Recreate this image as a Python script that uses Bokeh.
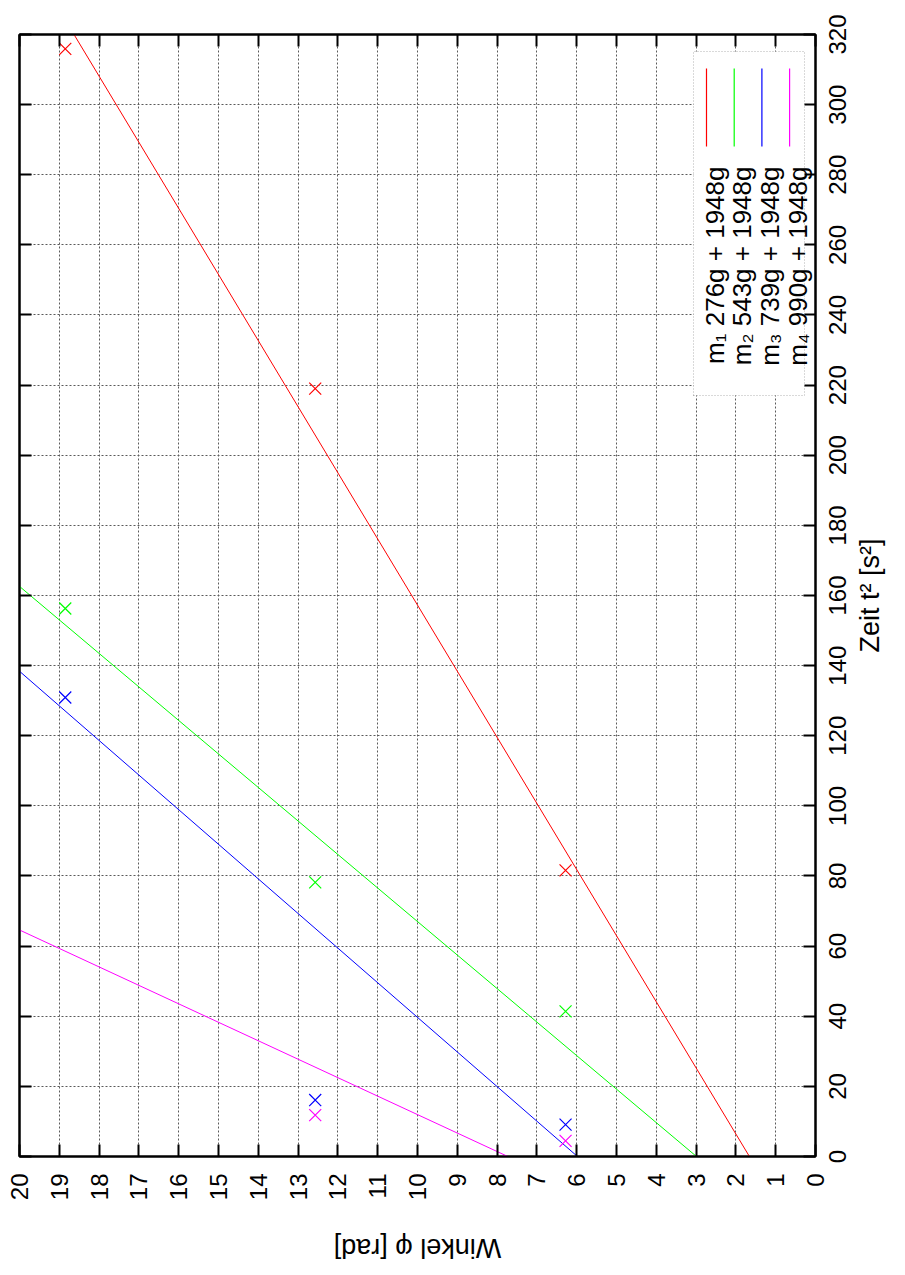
import math
from bokeh.plotting import figure
from bokeh.document import Document
from bokeh.models import (Range1d, LinearAxis, SingleIntervalTicker, Label,
                          BoxAnnotation, Arrow, CustomJSTickFormatter, CustomJS)
from bokeh.embed import file_html
from bokeh.resources import INLINE

# ---------------- data ----------------
# measured angles (2*pi, 4*pi, 6*pi) and squared times t^2
phi_marks = [6.28, 12.57, 18.85]
t2_m1 = [81.6, 219.0, 315.9]
t2_m2 = [41.4, 78.2, 156.3]
t2_m3 = [9.1, 16.1, 130.9]
phi_m4 = [6.28, 12.57]
t2_m4 = [4.45, 11.8]

# fitted straight lines (end points)
fit_m1_t2 = [0.0, 320.0]
fit_m1_phi = [1.66, 18.63]
fit_m2_t2 = [0.0, 162.6]
fit_m2_phi = [2.99, 20.0]
fit_m3_t2 = [0.0, 138.4]
fit_m3_phi = [5.98, 20.0]
fit_m4_t2 = [0.0, 64.6]
fit_m4_phi = [7.73, 20.0]

legend_labels = ["m\u2081 276g + 1948g", "m\u2082 543g + 1948g",
                 "m\u2083 739g + 1948g", "m\u2084 990g + 1948g"]
colors = ["#ff0000", "#00ff00", "#0000ff", "#ff00ff"]

x_label = "Zeit t\u00b2 [s\u00b2]"
y_label = "Winkel \u03c6 [rad]"

FONT = "Liberation Sans"
TICK_FS = "24px"
TITLE_FS = "27px"
LEG_FS = "26px"

W0, H0 = 1267, 897   # unrotated canvas size; the page shows it turned 90 deg

# ---------------- figure (gnuplot layout, then turned as a whole) ----------------
p = figure(frame_width=1122, frame_height=796,
           x_range=Range1d(0, 320), y_range=Range1d(0, 20),
           x_axis_location="below", y_axis_location="left",
           output_backend="svg", toolbar_location=None,
           min_border_left=110, min_border_right=35,
           min_border_top=19, min_border_bottom=82,
           background_fill_color="white", border_fill_color="white")
p.css_classes = ["rot-root"]

p.outline_line_color = "black"
p.outline_line_width = 2

xt = SingleIntervalTicker(interval=20, num_minor_ticks=0)
yt = SingleIntervalTicker(interval=1, num_minor_ticks=0)

p.xaxis[0].ticker = xt
p.yaxis[0].ticker = yt
p.xgrid.ticker = xt
p.ygrid.ticker = yt

for g in (p.xgrid, p.ygrid):
    g.grid_line_color = "#5a5a5a"
    g.grid_line_dash = "2 2"
    g.grid_line_width = 1


def style_axis(ax):
    ax.major_tick_in = 12
    ax.major_tick_out = 0
    ax.minor_tick_in = 0
    ax.minor_tick_out = 0
    ax.major_tick_line_color = "black"
    ax.major_tick_line_width = 2
    ax.axis_line_color = "black"
    ax.axis_line_width = 2
    ax.major_label_text_font = FONT
    ax.major_label_text_font_size = TICK_FS
    ax.major_label_text_color = "black"
    ax.axis_label_text_font = FONT
    ax.axis_label_text_font_size = TITLE_FS
    ax.axis_label_text_font_style = "normal"
    ax.axis_label_text_color = "black"


bx = p.xaxis[0]
ly = p.yaxis[0]
style_axis(bx)
style_axis(ly)
bx.major_label_standoff = 13
bx.axis_label = x_label
bx.axis_label_standoff = 6
ly.major_label_standoff = 17
ly.axis_label = y_label
ly.axis_label_standoff = 30

top = LinearAxis(ticker=xt)
right = LinearAxis(ticker=yt)
for ax in (top, right):
    style_axis(ax)
    ax.axis_label = None
    ax.major_label_text_font_size = "0px"
    ax.major_label_standoff = 0
    ax.formatter = CustomJSTickFormatter(code="return ''")
p.add_layout(top, "above")
p.add_layout(right, "right")

# ---------------- data glyphs ----------------
fits = [(fit_m1_t2, fit_m1_phi), (fit_m2_t2, fit_m2_phi),
        (fit_m3_t2, fit_m3_phi), (fit_m4_t2, fit_m4_phi)]
pts = [(t2_m1, phi_marks), (t2_m2, phi_marks), (t2_m3, phi_marks), (t2_m4, phi_m4)]

for (fx, fy), c in zip(fits, colors):
    p.line(fx, fy, line_color=c, line_width=1)
for (px_, py_), c in zip(pts, colors):
    p.scatter(px_, py_, marker="cross", angle=math.pi / 4, size=17,
              line_color=c, line_alpha=1.0, line_width=1.2, fill_color=None)

# ---------------- key (gnuplot style: text, then sample) ----------------
p.add_layout(BoxAnnotation(left=761, right=1105, bottom=11, top=122,
                           left_units="screen", right_units="screen",
                           bottom_units="screen", top_units="screen",
                           fill_color="white", fill_alpha=1.0,
                           line_color="black", line_dash="1 2", line_width=1,
                           level="annotation"))
for i, (lab, c) in enumerate(zip(legend_labels, colors)):
    ys = 109 - 27.7 * i
    p.add_layout(Arrow(end=None, x_start=1010, y_start=ys, x_end=1088, y_end=ys,
                       start_units="screen", end_units="screen",
                       line_color=c, line_width=1.2))
    p.add_layout(Label(x=990, y=ys - 8, x_units="screen", y_units="screen",
                       text=lab, text_align="right",
                       text_baseline="alphabetic", text_font=FONT,
                       text_font_size=LEG_FS, text_color="black"))

# ---------------- turn the finished page by 90 degrees (as in the reference) ----------------
turn_js = """
let el = document.querySelector('.rot-root');
if (!el) {
  const c = document.querySelector('[data-root-id]');
  if (c) { el = c.firstElementChild || c; }
}
if (el) {
  el.style.transformOrigin = '0px 0px';
  el.style.transform = 'translateY(%dpx) rotate(-90deg)';
}
""" % W0

doc = Document()
doc.add_root(p)
doc.js_on_event("document_ready", CustomJS(code=turn_js))

open("out.html", "w").write(file_html(p, INLINE))
